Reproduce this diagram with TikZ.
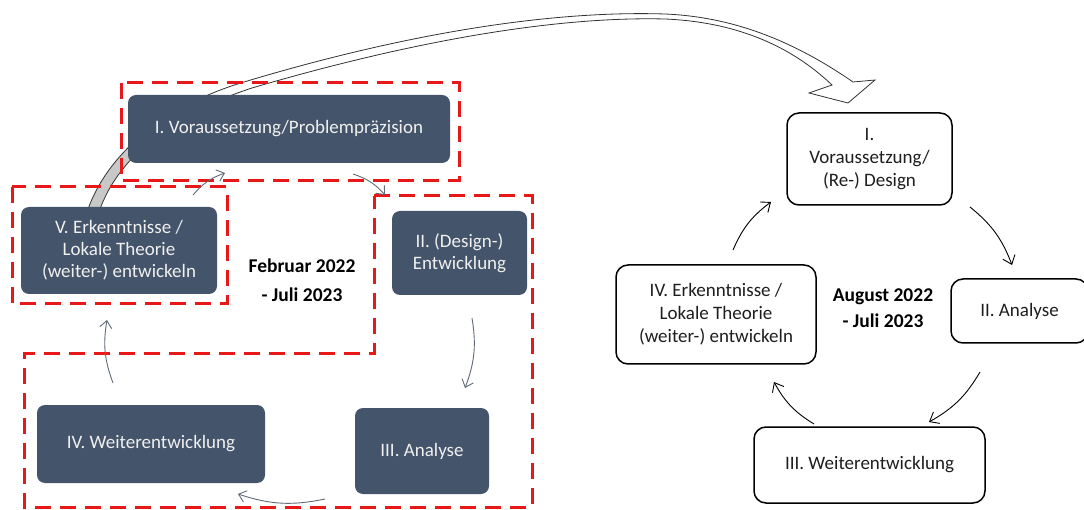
\documentclass[tikz,border=0pt]{standalone}
\usepackage{fontspec}
\setmainfont{Carlito}
\usetikzlibrary{arrows.meta}

\definecolor{slate}{RGB}{68,84,106}
\definecolor{dashred}{RGB}{232,24,24}
\definecolor{flowgray}{RGB}{96,106,120}
\definecolor{textdark}{RGB}{30,30,30}
\definecolor{bandgray}{RGB}{200,200,200}

\tikzset{
  darkbox/.style={rounded corners=8pt, fill=slate, text=white!94!black, align=center,
    font=\fontsize{19}{22}\selectfont, inner sep=0pt},
  lightbox/.style={rounded corners=12pt, draw=black, line width=1.5pt, fill=white,
    text=textdark, align=center, font=\fontsize{19}{23}\selectfont, inner sep=0pt},
  redframe/.style={draw=dashred, line width=3pt, dash pattern=on 16pt off 9pt},
  grayflow/.style={draw=flowgray, line width=0.9pt, -{Straight Barb[length=7pt,width=12pt]}},
  blackflow/.style={draw=black, line width=0.9pt, -{Straight Barb[length=8pt,width=13pt]}},
  period/.style={font=\bfseries\fontsize{19.5}{29}\selectfont, align=center, text=black}
}

\begin{document}
\begin{tikzpicture}[x=1pt, y=-1pt]
\useasboundingbox (0,0) rectangle (1084,510);

% =========================
% hollow arrow, left cycle -> right cycle
% =========================
\def\bandpath{(87,212) .. controls (108,150) and (170,104) .. (244,82)
  .. controls (390,38) and (540,10) .. (665,14)
  .. controls (735,17) and (795,42) .. (853,82)
  -- (875,80) -- (848,103) -- (809,93) -- (832,85)
  .. controls (790,45) and (735,22) .. (665,19)
  .. controls (545,16) and (395,46) .. (252,88)
  .. controls (178,112) and (118,155) .. (99,212) -- cycle}
\fill[white] \bandpath;
\begin{scope}
  \clip (0,100) rectangle (200,220);
  \fill[bandgray] \bandpath;
\end{scope}
\draw[gray!40!black, line width=0.8pt] \bandpath;

% =========================
% Februar 2022 - Juli 2023
% =========================
\node[darkbox, minimum width=322pt, minimum height=68pt] (pI) at (289,129) {I. Voraussetzung/Problempräzision};
\node[darkbox, minimum width=196pt, minimum height=87pt] (pV) at (119,250.5) {V. Erkenntnisse /\\Lokale Theorie\\(weiter-) entwickeln};
\node[darkbox, minimum width=135pt, minimum height=84pt] (pII) at (459.5,253) {II. (Design-)\\Entwicklung};
\node[darkbox, minimum width=134pt, minimum height=86pt] (pIII) at (422,451) {III. Analyse};
\node[darkbox, minimum width=228pt, minimum height=78pt] (pIV) at (151,444) {IV. Weiterentwicklung};

\node[period] (dateL) at (302,280) {Februar 2022\\- Juli 2023};

% dashed frames
\draw[redframe] (121,83) rectangle (459,181);
\draw[redframe] (12,187) rectangle (227,304);
\draw[redframe] (374,196) -- (532,196) -- (532,507) -- (24,507) -- (24,354) -- (374,354) -- cycle;

% arrow ends
\coordinate (pV1) at (193,195);  \coordinate (pI0) at (225,173);
\coordinate (pI1) at (353,174);  \coordinate (pII0) at (385,195);
\coordinate (pII1) at (472,318); \coordinate (pIII0) at (465,388);
\coordinate (pIII1) at (325,499); \coordinate (pIV0) at (238,494);
\coordinate (pIV1) at (113,383); \coordinate (pV0) at (107,320);

\foreach \a/\b in {pV1/pI0, pI1/pII0, pII1/pIII0, pIII1/pIV0, pIV1/pV0}
  \draw[grayflow] (\a) to[bend left=15] (\b);

% =========================
% August 2022 - Juli 2023
% =========================
\node[lightbox, minimum width=165pt, minimum height=92pt] (rI) at (869.5,159) {I.\\Voraussetzung/\\(Re-) Design};
\node[lightbox, minimum width=137pt, minimum height=64pt] (rII) at (1019.5,311) {II. Analyse};
\node[lightbox, minimum width=231pt, minimum height=76pt] (rIII) at (869.5,465) {III. Weiterentwicklung};
\node[lightbox, minimum width=200pt, minimum height=99pt] (rIV) at (716,314.5) {IV. Erkenntnisse /\\Lokale Theorie\\(weiter-) entwickeln};

\node[period, font=\bfseries\fontsize{19.5}{26}\selectfont] (dateR) at (883,308) {August 2022\\- Juli 2023};

% arrow ends
\coordinate (rI1) at (970,207);   \coordinate (rII0) at (1012,265);
\coordinate (rII1) at (980,372);  \coordinate (rIII0) at (929,422);
\coordinate (rIII1) at (814,424); \coordinate (rIV0) at (774,382);
\coordinate (rIV1) at (733,250);  \coordinate (rI0) at (771,202);

\foreach \a/\b in {rI1/rII0, rII1/rIII0, rIII1/rIV0, rIV1/rI0}
  \draw[blackflow] (\a) to[bend left=15] (\b);

\end{tikzpicture}
\end{document}
